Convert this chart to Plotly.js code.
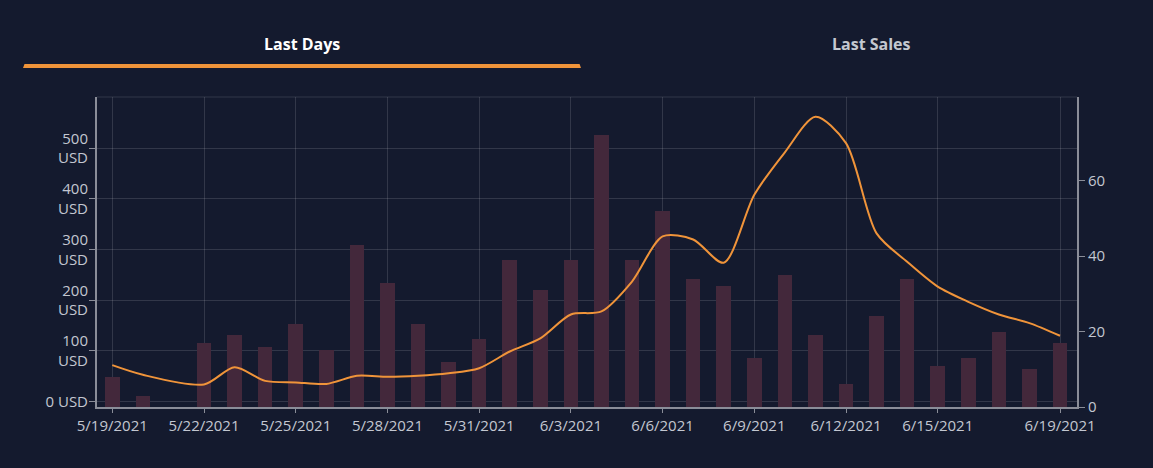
<!DOCTYPE html>
<html>
<head>
<meta charset="utf-8">
<script src="https://cdn.plot.ly/plotly-3.0.1.min.js"></script>
<style>
  html, body { margin: 0; padding: 0; background: #141a2e; }
  #chart { width: 1153px; height: 468px; }
</style>
</head>
<body>
<div id="chart"></div>
<script>
// ---- data ----
const saleDates = ['2021-05-19','2021-05-20','2021-05-22','2021-05-23','2021-05-24','2021-05-25','2021-05-26','2021-05-27','2021-05-28','2021-05-29','2021-05-30','2021-05-31','2021-06-01','2021-06-02','2021-06-03','2021-06-04','2021-06-05','2021-06-06','2021-06-07','2021-06-08','2021-06-09','2021-06-10','2021-06-11','2021-06-12','2021-06-13','2021-06-14','2021-06-15','2021-06-16','2021-06-17','2021-06-18','2021-06-19'];
const salesCount = [8,3,17,19,16,22,15,43,33,22,12,18,39,31,39,72,39,52,34,32,13,35,19,6,24,34,11,13,20,10,17];
const avgPriceUSD = [72,53,34,68,41,38,35,51,49,51,56,66,99,125,172,178,237,326,320,274,408,492,562,510,332,276,227,197,172,155,130];

const xTickVals = ['2021-05-19','2021-05-22','2021-05-25','2021-05-28','2021-05-31','2021-06-03','2021-06-06','2021-06-09','2021-06-12','2021-06-15','2021-06-19'];
const xTickText = ['5/19/2021','5/22/2021','5/25/2021','5/28/2021','5/31/2021','6/3/2021','6/6/2021','6/9/2021','6/12/2021','6/15/2021','6/19/2021'];
const usdTickVals = [0,100,200,300,400,500];
const usdTickText = ['0 USD','100<br>USD','200<br>USD','300<br>USD','400<br>USD','500<br>USD'];
const countTickVals = [0,20,40,60];
const countTickText = ['0','20','40','60'];
const tabLabels = ['Last Days','Last Sales'];

// ---- styling ----
const BG = '#141a2e';
const GRID = 'rgba(255,255,255,0.13)';
const AXIS = '#8a8d98';
const TICKCOL = '#c3c7d1';
const ORANGE = '#f0943a';
const BAR = '#43283b';
const FONT = 'Open Sans, sans-serif';

const bars = {
  type: 'bar',
  x: saleDates,
  y: salesCount,
  yaxis: 'y',
  width: 0.48 * 86400000,
  marker: { color: BAR, line: { width: 0 } },
  hoverinfo: 'skip'
};
const line = {
  type: 'scatter',
  mode: 'lines',
  x: saleDates,
  y: avgPriceUSD,
  yaxis: 'y2',
  line: { color: ORANGE, width: 2, shape: 'spline', smoothing: 0.8 },
  hoverinfo: 'skip'
};

const layout = {
  width: 1153,
  height: 468,
  paper_bgcolor: BG,
  plot_bgcolor: BG,
  margin: { l: 97, r: 76, t: 97, b: 61 },
  showlegend: false,
  bargap: 0,
  font: { family: FONT, size: 15, color: TICKCOL },
  xaxis: {
    type: 'date',
    range: ['2021-05-18 12:00', '2021-06-19 13:20'],
    tickmode: 'array',
    tickvals: xTickVals,
    ticktext: xTickText,
    showgrid: true,
    gridcolor: GRID,
    gridwidth: 1,
    showline: true,
    linecolor: AXIS,
    linewidth: 2,
    ticks: 'outside',
    ticklen: 4,
    tickcolor: AXIS,
    ticklabelstandoff: 0,
    tickfont: { family: FONT, size: 15, color: TICKCOL },
    zeroline: false
  },
  yaxis: {
    side: 'right',
    range: [0, 82.2],
    tickmode: 'array',
    tickvals: countTickVals,
    ticktext: countTickText,
    showgrid: false,
    showline: true,
    linecolor: AXIS,
    linewidth: 2,
    ticks: 'outside',
    ticklen: 6,
    tickcolor: AXIS,
    tickfont: { family: FONT, size: 15, color: TICKCOL },
    zeroline: false
  },
  yaxis2: {
    overlaying: 'y',
    side: 'left',
    range: [-10.5, 601],
    tickmode: 'array',
    tickvals: usdTickVals,
    ticktext: usdTickText,
    showgrid: true,
    gridcolor: GRID,
    gridwidth: 1,
    showline: true,
    linecolor: AXIS,
    linewidth: 2,
    ticks: 'outside',
    ticklen: 6,
    tickcolor: AXIS,
    ticklabelstandoff: -2,
    tickfont: { family: FONT, size: 15, color: TICKCOL },
    zeroline: false
  },
  shapes: [
    { type: 'line', xref: 'paper', yref: 'paper', x0: 0, x1: 1, y0: 1, y1: 1,
      line: { color: GRID, width: 1 }, layer: 'below' },
    { type: 'path', xref: 'paper', yref: 'paper',
      path: 'M -0.0755,1.0935 L 0.4939,1.0935 L 0.4924,1.1065 L -0.0740,1.1065 Z',
      fillcolor: ORANGE, line: { width: 0 } }
  ],
  annotations: [
    { xref: 'paper', yref: 'paper', x: (302 - 97) / 980, y: (407 - 44) / 310,
      text: '<b>' + tabLabels[0] + '</b>', showarrow: false, xanchor: 'center', yanchor: 'middle',
      font: { family: FONT, size: 16, color: '#ffffff' } },
    { xref: 'paper', yref: 'paper', x: (871 - 97) / 980, y: (407 - 44) / 310,
      text: '<b>' + tabLabels[1] + '</b>', showarrow: false, xanchor: 'center', yanchor: 'middle',
      font: { family: FONT, size: 16, color: '#c4c8d0' } }
  ]
};

Plotly.newPlot('chart', [bars, line], layout, { staticPlot: true, displayModeBar: false });
</script>
</body>
</html>
